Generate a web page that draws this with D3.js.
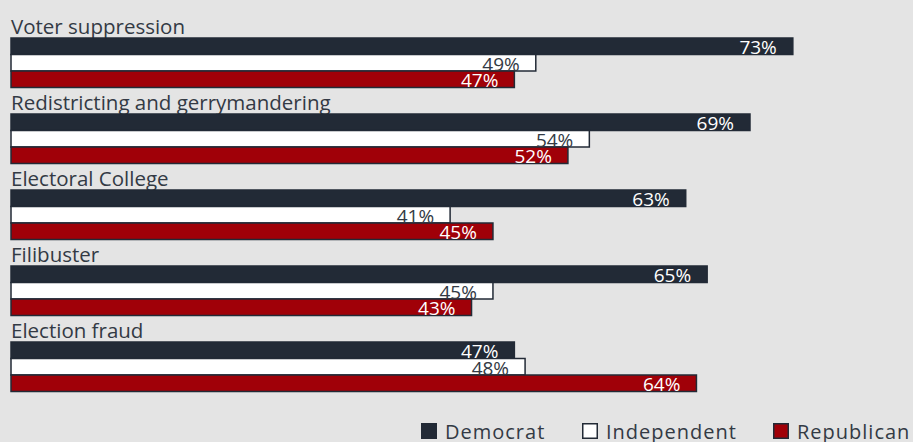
<!DOCTYPE html>
<html>
<head>
<meta charset="utf-8">
<script src="https://cdn.jsdelivr.net/npm/d3@7"></script>
<style>
  html, body { margin: 0; padding: 0; background: #e4e4e4; }
  svg { display: block; font-family: "Open Sans", Lato, sans-serif; }
</style>
</head>
<body>
<svg id="chart" width="913" height="442"></svg>
<script>
// data
var categories = ["Voter suppression", "Redistricting and gerrymandering", "Electoral College", "Filibuster", "Election fraud"];
var parties = ["Democrat", "Independent", "Republican"];
var democrat = [73, 69, 63, 65, 47];
var independent = [49, 54, 41, 45, 48];
var republican = [47, 52, 45, 43, 64];

var fills = { Democrat: "#222a36", Independent: "#ffffff", Republican: "#a00008" };
var labelColors = { Democrat: "#ffffff", Independent: "#333a44", Republican: "#ffffff" };
var ink = "#222a36";

var svg = d3.select("#chart");

var x = d3.scaleLinear().domain([0, 100]).range([11, 11 + 1071]);

// each group: label above, three stacked bars
var y = d3.scaleBand()
    .domain(categories)
    .range([38, 391.5])
    .paddingInner(26.5 / 76)
    .paddingOuter(0);

var yParty = d3.scaleBand()
    .domain(parties)
    .range([0, y.bandwidth()]);

var rows = categories.map(function (c, i) {
    return {
        name: c,
        values: [
            { party: "Democrat", value: democrat[i] },
            { party: "Independent", value: independent[i] },
            { party: "Republican", value: republican[i] }
        ]
    };
});

var groups = svg.selectAll(".group")
    .data(rows).enter()
    .append("g")
    .attr("class", "group")
    .attr("transform", function (d) { return "translate(0," + y(d.name) + ")"; });

// category label (drawn first, bars cover descenders)
groups.append("text")
    .attr("x", 11)
    .attr("y", -4)
    .attr("fill", "#333a44")
    .style("font-size", "20.5px")
    .text(function (d) { return d.name; });

groups.selectAll("rect")
    .data(function (d) { return d.values; }).enter()
    .append("rect")
    .attr("x", x(0))
    .attr("y", function (d) { return yParty(d.party); })
    .attr("width", function (d) { return x(d.value) - x(0); })
    .attr("height", yParty.bandwidth())
    .attr("fill", function (d) { return fills[d.party]; })
    .attr("stroke", ink)
    .attr("stroke-width", 1.5);

groups.selectAll(".val")
    .data(function (d) { return d.values; }).enter()
    .append("text")
    .attr("class", "val")
    .attr("x", function (d) { return x(d.value) - 16; })
    .attr("y", function (d) { return yParty(d.party) + yParty.bandwidth() - 0.5; })
    .attr("text-anchor", "end")
    .attr("fill", function (d) { return labelColors[d.party]; })
    .style("font-size", "19px")
    .text(function (d) { return d.value + "%"; });

// legend
var legendX = [421, 582, 773];
var legend = svg.selectAll(".legend")
    .data(parties).enter()
    .append("g")
    .attr("class", "legend")
    .attr("transform", function (d, i) { return "translate(" + legendX[i] + ",423)"; });

legend.append("rect")
    .attr("x", 0.75)
    .attr("y", 0.75)
    .attr("width", 14.5)
    .attr("height", 14.5)
    .attr("fill", function (d) { return fills[d]; })
    .attr("stroke", ink)
    .attr("stroke-width", 1.5);

legend.append("text")
    .attr("x", 24)
    .attr("y", 16)
    .attr("fill", "#333a44")
    .style("font-size", "20px")
    .style("letter-spacing", "1px")
    .text(function (d) { return d; });
</script>
</body>
</html>
